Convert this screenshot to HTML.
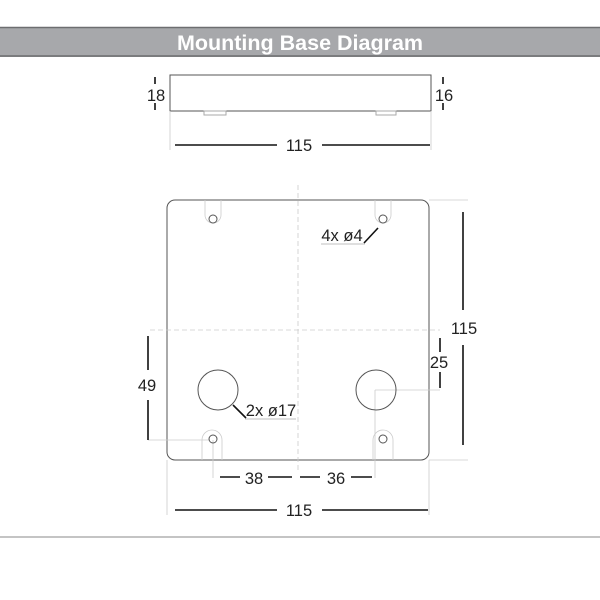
<!DOCTYPE html>
<html><head><style>body{margin:0;background:#fff}svg{display:block}</style></head><body>
<svg width="600" height="600" viewBox="0 0 600 600" xmlns="http://www.w3.org/2000/svg" font-family="Liberation Sans, sans-serif">
<rect x="0" y="27" width="600" height="30" fill="#a7a8ab"/>
<line x1="0" y1="27.5" x2="600" y2="27.5" stroke="#6d6e70" stroke-width="1.5"/>
<line x1="0" y1="56" x2="600" y2="56" stroke="#6d6e70" stroke-width="1.5"/>
<text x="300" y="50" text-anchor="middle" fill="#fff" font-size="21.5" font-weight="bold">Mounting Base Diagram</text>
<line x1="0" y1="537" x2="600" y2="537" stroke="#888" stroke-width="1"/>
<g fill="none" stroke="#555" stroke-width="1">
<rect x="170" y="75" width="261" height="36"/>
<rect x="204" y="111" width="22" height="4" stroke="#aaa"/>
<rect x="376" y="111" width="20" height="4" stroke="#aaa"/>
<rect x="167" y="200" width="262" height="260" rx="8"/>
</g>
<g stroke="#ccc" stroke-width="0.8" fill="none">
<line x1="170" y1="111" x2="170" y2="150"/><line x1="431" y1="111" x2="431" y2="150"/>
<line x1="298" y1="185" x2="298" y2="470" stroke-dasharray="5,3"/>
<line x1="150" y1="330" x2="440" y2="330" stroke-dasharray="5,3"/>
<line x1="429" y1="200" x2="468" y2="200"/><line x1="429" y1="460" x2="468" y2="460"/>
<line x1="167" y1="460" x2="167" y2="515"/><line x1="429" y1="460" x2="429" y2="515"/>
<line x1="148" y1="440" x2="210" y2="440"/>
<line x1="375" y1="390" x2="440" y2="390"/>
<line x1="375" y1="390" x2="375" y2="478"/>
<line x1="213" y1="440" x2="213" y2="478"/>
<path d="M205 200 V215 A8 8 0 0 0 221 215 V200 M375 200 V215 A8 8 0 0 0 391 215 V200"/>
<path d="M202 460 V440 A8 8 0 0 1 222 440 V460 M373 460 V440 A8 8 0 0 1 393 440 V460"/>
</g>
<g stroke="#555" stroke-width="1" fill="none">
<circle cx="213" cy="219" r="4"/><circle cx="383" cy="219" r="4"/>
<circle cx="213" cy="439" r="4"/><circle cx="383" cy="439" r="4"/>
<circle cx="218" cy="390" r="20"/><circle cx="376" cy="390" r="20"/>
</g>
<g stroke="#111" stroke-width="1.6">
<line x1="155" y1="77" x2="155" y2="84"/><line x1="155" y1="103" x2="155" y2="110"/>
<line x1="443" y1="77" x2="443" y2="84"/><line x1="443" y1="103" x2="443" y2="110"/>
<line x1="175" y1="145" x2="277" y2="145"/><line x1="322" y1="145" x2="430" y2="145"/>
<line x1="463" y1="212" x2="463" y2="310"/><line x1="463" y1="345" x2="463" y2="445"/>
<line x1="440" y1="338" x2="440" y2="352"/><line x1="440" y1="372" x2="440" y2="388"/>
<line x1="148" y1="336" x2="148" y2="370"/><line x1="148" y1="400" x2="148" y2="440"/>
<line x1="220" y1="477" x2="240" y2="477"/><line x1="268" y1="477" x2="292" y2="477"/>
<line x1="300" y1="477" x2="320" y2="477"/><line x1="351" y1="477" x2="372" y2="477"/>
<line x1="175" y1="510" x2="277" y2="510"/><line x1="322" y1="510" x2="428" y2="510"/>
<line x1="233" y1="405" x2="246" y2="418"/><line x1="378" y1="228" x2="364" y2="243"/>
</g>
<g stroke="#aaa" stroke-width="0.8"><line x1="245" y1="419" x2="296" y2="419"/><line x1="321" y1="244" x2="365" y2="244"/></g>
<g font-size="16.5" fill="#222" text-anchor="middle">
<text x="156" y="101">18</text><text x="444" y="101">16</text>
<text x="299" y="151">115</text>
<text x="271" y="416">2x ø17</text><text x="342" y="241">4x ø4</text>
<text x="464" y="334">115</text><text x="439" y="368">25</text><text x="147" y="391">49</text>
<text x="254" y="484">38</text><text x="336" y="484">36</text>
<text x="299" y="516">115</text>
</g>
</svg>
</body></html>
